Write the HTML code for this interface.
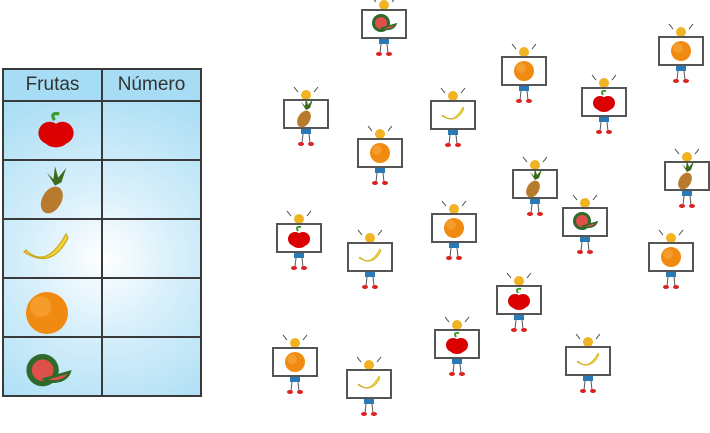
<!DOCTYPE html>
<html><head><meta charset="utf-8"><style>
body{margin:0;width:710px;height:433px;background:#fff;overflow:hidden;position:relative;font-family:"Liberation Sans",sans-serif}
table{position:absolute;left:2px;top:68px;border-collapse:collapse;background:radial-gradient(circle at 100px 190px,#fff 0,#d9f0fb 70px,#a6dcf4 190px)}
td{border:2px solid #3a3a3a;width:97px;height:57px;padding:0;text-align:center}
tr.h td{height:30px;font-size:19px;color:#333;background:#a6dcf4}
svg{position:absolute;left:0;top:0}
</style></head><body>
<table>
<tr class="h"><td>Frutas</td><td>Número</td></tr>
<tr><td></td><td></td></tr><tr><td></td><td></td></tr><tr><td></td><td></td></tr><tr><td></td><td></td></tr><tr><td></td><td></td></tr>
</table>
<svg width="710" height="433" viewBox="0 0 710 433">
<defs>
<g id="apple"><path d="M-1,-8 q-3,-5 3,-4" stroke="#3a9a2a" stroke-width="2" fill="none"/><circle cx="-4" cy="0" r="7" fill="#d80000"/><circle cx="4" cy="0" r="7" fill="#d80000"/><ellipse cx="0" cy="3" rx="8" ry="6" fill="#d00"/></g>
<g id="pine"><path d="M0,-4 l-5,-8 l4,4 l1,-8 l2,7 l5,-6 l-3,9z" fill="#3d6b1e"/><ellipse cx="-2" cy="5" rx="6" ry="9" transform="rotate(30 -2 5)" fill="#b87a2c"/></g>
<g id="ban"><path d="M-10,-2 q10,10 20,-8 l1,2 q-8,16 -22,7z" fill="#f2d43a" stroke="#c9a71a" stroke-width=".6"/></g>
<g id="org"><circle r="10" fill="#f08a10"/><circle cx="-3" cy="-3" r="5" fill="#f7a840" opacity=".6"/></g>
<g id="wat"><circle cx="-3" cy="-1" r="9" fill="#2e6a2a"/><circle cx="-3" cy="-1" r="6" fill="#e0504a"/><path d="M-2,4 a9,7 0 0 0 14,-4z" fill="#e0504a" stroke="#2e6a2a" stroke-width="1.5"/></g>
<g id="kid"><circle cx="22" cy="-5" r="5" fill="#f2b322"/><path d="M14,-8 l-4,-5 M30,-8 l4,-5" stroke="#444" stroke-width="1"/><rect x="17" y="28" width="10" height="6" fill="#2a7ab8"/><path d="M19,34 l-1,9 M25,34 l1,9" stroke="#555" stroke-width="1"/><ellipse cx="17" cy="44" rx="3" ry="2" fill="#d22"/><ellipse cx="27" cy="44" rx="3" ry="2" fill="#d22"/><rect x="0" y="0" width="44" height="28" fill="#fff" stroke="#555" stroke-width="2"/></g>
</defs>
<use href="#apple" transform="translate(56,133) scale(1.6)"/>
<use href="#pine" transform="translate(55,192) scale(1.6)"/>
<use href="#ban" transform="translate(46,254) scale(2)"/>
<use href="#org" transform="translate(47,313) scale(2.1)"/>
<use href="#wat" transform="translate(48,372) scale(1.8)"/>
<g transform="translate(362,10)"><use href="#kid"/><use href="#wat" x="22" y="14"/></g>
<g transform="translate(502,57)"><use href="#kid"/><use href="#org" x="22" y="14"/></g>
<g transform="translate(659,37)"><use href="#kid"/><use href="#org" x="22" y="14"/></g>
<g transform="translate(284,100)"><use href="#kid"/><use href="#pine" x="22" y="14"/></g>
<g transform="translate(431,101)"><use href="#kid"/><use href="#ban" x="22" y="16"/></g>
<g transform="translate(582,88)"><use href="#kid"/><use href="#apple" x="22" y="15"/></g>
<g transform="translate(358,139)"><use href="#kid"/><use href="#org" x="22" y="14"/></g>
<g transform="translate(513,170)"><use href="#kid"/><use href="#pine" x="22" y="14"/></g>
<g transform="translate(665,162)"><use href="#kid"/><use href="#pine" x="22" y="14"/></g>
<g transform="translate(277,224)"><use href="#kid"/><use href="#apple" x="22" y="15"/></g>
<g transform="translate(432,214)"><use href="#kid"/><use href="#org" x="22" y="14"/></g>
<g transform="translate(563,208)"><use href="#kid"/><use href="#wat" x="22" y="14"/></g>
<g transform="translate(348,243)"><use href="#kid"/><use href="#ban" x="22" y="16"/></g>
<g transform="translate(649,243)"><use href="#kid"/><use href="#org" x="22" y="14"/></g>
<g transform="translate(497,286)"><use href="#kid"/><use href="#apple" x="22" y="15"/></g>
<g transform="translate(273,348)"><use href="#kid"/><use href="#org" x="22" y="14"/></g>
<g transform="translate(435,330)"><use href="#kid"/><use href="#apple" x="22" y="15"/></g>
<g transform="translate(566,347)"><use href="#kid"/><use href="#ban" x="22" y="16"/></g>
<g transform="translate(347,370)"><use href="#kid"/><use href="#ban" x="22" y="16"/></g>
</svg>
</body></html>
